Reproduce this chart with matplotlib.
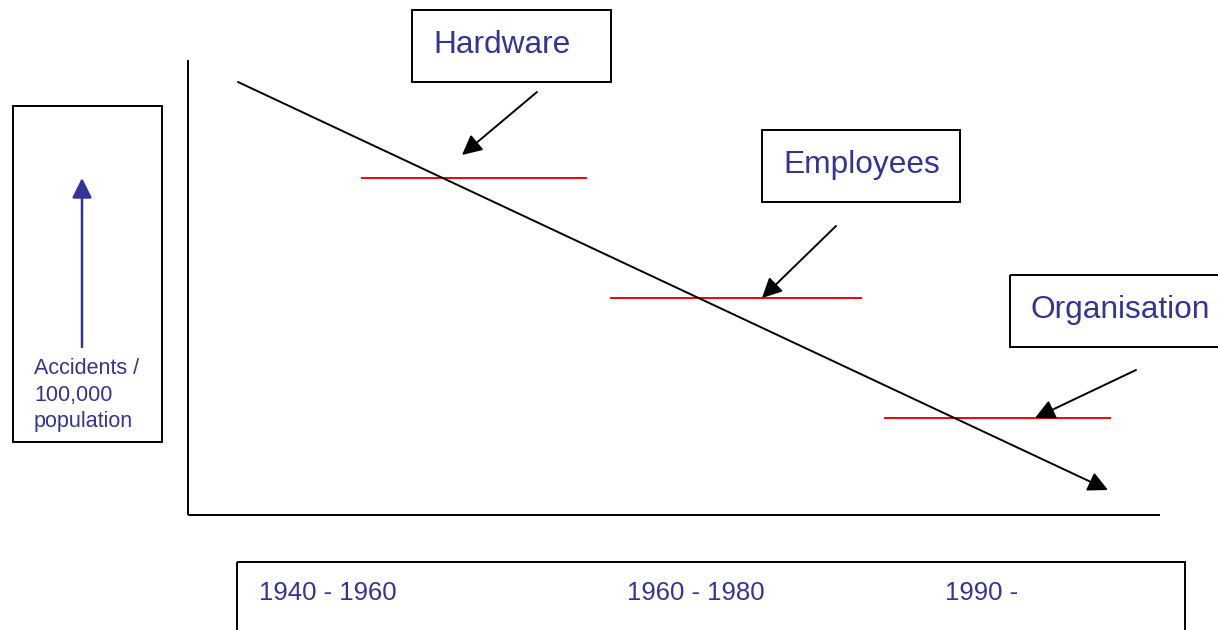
import matplotlib.pyplot as plt
import matplotlib.patches as patches

# Diagram content (pixel coordinates, y grows downward)
factors = ['Hardware', 'Employees', 'Organisation']
periods = ['1940 - 1960', '1960 - 1980', '1990 -']
period_x = [259, 627, 945]

# red "level" lines: y, x-start, x-end
level_y = [178, 298, 418]
level_x0 = [362, 611, 885]
level_x1 = [586, 861, 1110]

# label boxes: left, top, width, height
box_left = [412, 762, 1010]
box_top = [10, 130, 275]
box_w = [199, 198, 230]
box_h = [72, 72, 72]

# pointer arrows from each box to its level line
ptr_start = [(537, 92), (836, 226), (1136, 370)]
ptr_end = [(462, 155), (762, 298), (1035, 418)]

text_blue = '#333399'
red = '#ff0000'


def main():
    plt.rcParams['font.family'] = ['Liberation Sans', 'DejaVu Sans']
    fig = plt.figure(figsize=(12.18, 6.30), dpi=100)
    ax = fig.add_axes([0, 0, 1, 1])
    ax.set_xlim(0, 1218)
    ax.set_ylim(630, 0)
    ax.axis('off')

    lw = 1.4
    arrow = dict(arrowstyle='-|>,head_length=0.6,head_width=0.3', mutation_scale=20,
                 color='black', lw=lw, shrinkA=0, shrinkB=0)

    # left box with "accidents" arrow
    ax.add_patch(patches.Rectangle((13, 106), 149, 336, fill=False, edgecolor='black', lw=lw))
    ax.annotate('', xy=(82, 178), xytext=(82, 347),
                arrowprops=dict(arrow, color=text_blue, lw=1.8))
    ax.text(34, 395, 'Accidents /\n100,000\npopulation', ha='left', va='center',
            fontsize=15.5, color=text_blue, linespacing=1.36)

    # axes
    ax.plot([188, 188], [60, 515], color='black', lw=lw, solid_capstyle='butt')
    ax.plot([188, 1160], [515, 515], color='black', lw=lw, solid_capstyle='butt')

    # falling trend
    ax.annotate('', xy=(1108, 490), xytext=(238, 82), arrowprops=arrow)

    # level lines
    for y, x0, x1 in zip(level_y, level_x0, level_x1):
        ax.plot([x0, x1], [y, y], color=red, lw=lw)

    # factor boxes and pointers
    for name, l, t, w, h, s, e in zip(factors, box_left, box_top, box_w, box_h, ptr_start, ptr_end):
        ax.add_patch(patches.Rectangle((l, t), w, h, fill=False, edgecolor='black', lw=lw))
        ax.text(l + 21, t + 35, name, ha='left', va='center', fontsize=22.8, color=text_blue)
        ax.annotate('', xy=e, xytext=s, arrowprops=arrow)

    # period box
    ax.add_patch(patches.Rectangle((237, 562), 948, 90, fill=False, edgecolor='black', lw=lw))
    for p, x in zip(periods, period_x):
        ax.text(x, 593, p, ha='left', va='center', fontsize=18.5, color=text_blue)

    fig.savefig('out.png', dpi=100)
    plt.close(fig)


if __name__ == '__main__':
    main()
